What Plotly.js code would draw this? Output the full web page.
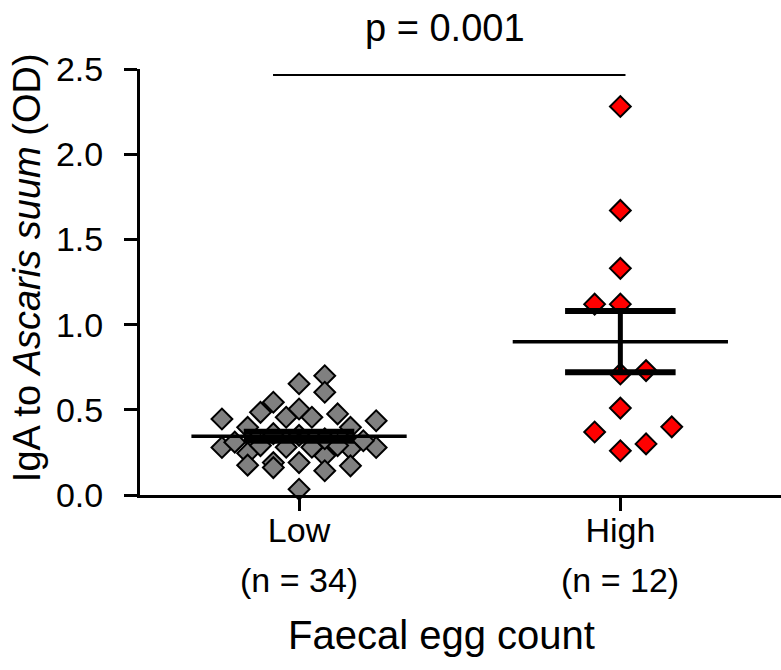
<!DOCTYPE html>
<html>
<head>
<meta charset="utf-8">
<script src="https://cdn.plot.ly/plotly-3.0.1.min.js"></script>
<style>html,body{margin:0;padding:0;background:#fff;}#chart{width:781px;height:670px;}</style>
</head>
<body>
<div id="chart"></div>
<script>
// ---- data ----
const groups = ['Low', 'High'];
const nLabels = ['(n = 34)', '(n = 12)'];
const lowValues = [0.446, 0.544, 0.485, 0.456, 0.653, 0.505, 0.397, 0.279, 0.310, 0.245,
                   0.175, 0.190, 0.161, 0.280, 0.190, 0.034, 0.700, 0.603, 0.476, 0.456,
                   0.436, 0.397, 0.279, 0.318, 0.270, 0.230, 0.171, 0.142, 0.290, 0.280,
                   0.290, 0.360, 0.350, 0.330];
const lowColumns = [-6, -2, -3, -1, 0, 0, -4, -6, -5, -4,
                    -4, -2, -2, -1, 0, 0, 2, 2, 3, 1,
                    6, 4, 6, 5, 4, 2, 4, 2, -3, 1,
                    3, -2, 0, 2];
const highValues = [2.28, 1.67, 1.33, 1.12, 1.12, 0.71, 0.73, 0.51, 0.37, 0.26, 0.30, 0.40];
const highColumns = [0, 0, 0, -2, 0, 0, 2, 0, -2, 0, 2, 4];
const groupMeans = [0.345, 0.90];
const groupSEM = [0.026, 0.18];
const pValueText = 'p = 0.001';
const yTicks = [0, 0.5, 1.0, 1.5, 2.0, 2.5];

// ---- styling ----
const FONT = 'Liberation Sans, Arial, sans-serif';
const colStep = 0.04;
const meanHalf = 0.335;
const capHalf = 0.172;

const lowX = lowColumns.map(c => 0 + c * colStep);
const highX = highColumns.map(c => 1 + c * colStep);

const traces = [
  {
    type: 'scatter', mode: 'markers', x: lowX, y: lowValues, name: groups[0],
    marker: {symbol: 'diamond', size: 16, color: '#808080', line: {color: '#000', width: 2}},
    hoverinfo: 'skip', cliponaxis: false
  },
  {
    type: 'scatter', mode: 'markers', x: highX, y: highValues, name: groups[1],
    marker: {symbol: 'diamond', size: 16, color: '#ff0000', line: {color: '#000', width: 2}},
    hoverinfo: 'skip', cliponaxis: false
  }
];

const shapes = [];
groupMeans.forEach((m, i) => {
  const s = groupSEM[i];
  shapes.push({type: 'line', xref: 'x', yref: 'y', x0: i - meanHalf, x1: i + meanHalf, y0: m, y1: m,
               line: {color: '#000', width: 3.5}});
  shapes.push({type: 'line', xref: 'x', yref: 'y', x0: i - capHalf, x1: i + capHalf, y0: m + s, y1: m + s,
               line: {color: '#000', width: 6}});
  shapes.push({type: 'line', xref: 'x', yref: 'y', x0: i - capHalf, x1: i + capHalf, y0: m - s, y1: m - s,
               line: {color: '#000', width: 6}});
  shapes.push({type: 'line', xref: 'x', yref: 'y', x0: i, x1: i, y0: m - s, y1: m + s,
               line: {color: '#000', width: 5}});
});
// significance bar
shapes.push({type: 'line', xref: 'x', yref: 'y', x0: -0.081, x1: 1.016, y0: 2.465, y1: 2.465,
             line: {color: '#000', width: 2}});

const annotations = [
  {text: pValueText, xref: 'x', yref: 'paper', x: 0.455, y: 1.096, xanchor: 'center', yanchor: 'middle',
   showarrow: false, font: {family: FONT, size: 38, color: '#000'}},
  {text: 'Faecal egg count', xref: 'paper', yref: 'paper', x: 0.471, y: -0.329, xanchor: 'center', yanchor: 'middle',
   showarrow: false, font: {family: FONT, size: 40, color: '#000'}},
  {text: 'IgA to <i>Ascaris suum</i> (OD)', xref: 'paper', yref: 'paper', x: -0.176, y: 0.533,
   xanchor: 'center', yanchor: 'middle', textangle: -90,
   showarrow: false, font: {family: FONT, size: 38, color: '#000'}}
];
nLabels.forEach((t, i) => {
  annotations.push({text: t, xref: 'x', yref: 'paper', x: i, y: -0.2, xanchor: 'center', yanchor: 'middle',
                    showarrow: false, font: {family: FONT, size: 34, color: '#000'}});
});

const layout = {
  width: 781, height: 670,
  margin: {l: 140, r: 0, t: 69, b: 175},
  paper_bgcolor: '#fff', plot_bgcolor: '#fff',
  showlegend: false,
  font: {family: FONT, color: '#000', size: 34},
  xaxis: {
    range: [-0.495, 1.50],
    tickmode: 'array', tickvals: groups.map((g, i) => i), ticktext: groups,
    ticks: 'outside', ticklen: 13, tickwidth: 3, tickcolor: '#000',
    ticklabelstandoff: -10,
    showline: true, linewidth: 3, linecolor: '#000',
    showgrid: false, zeroline: false,
    tickfont: {family: FONT, size: 34, color: '#000'}
  },
  yaxis: {
    range: [0, 2.5],
    tickmode: 'array', tickvals: yTicks, ticktext: yTicks.map(v => v.toFixed(1)),
    ticks: 'outside', ticklen: 13, tickwidth: 3, tickcolor: '#000',
    ticklabelstandoff: 14,
    showline: true, linewidth: 3, linecolor: '#000',
    showgrid: false, zeroline: false,
    tickfont: {family: FONT, size: 34, color: '#000'}
  },
  shapes: shapes,
  annotations: annotations
};

Plotly.newPlot('chart', traces, layout, {displayModeBar: false, staticPlot: true});
</script>
</body>
</html>
